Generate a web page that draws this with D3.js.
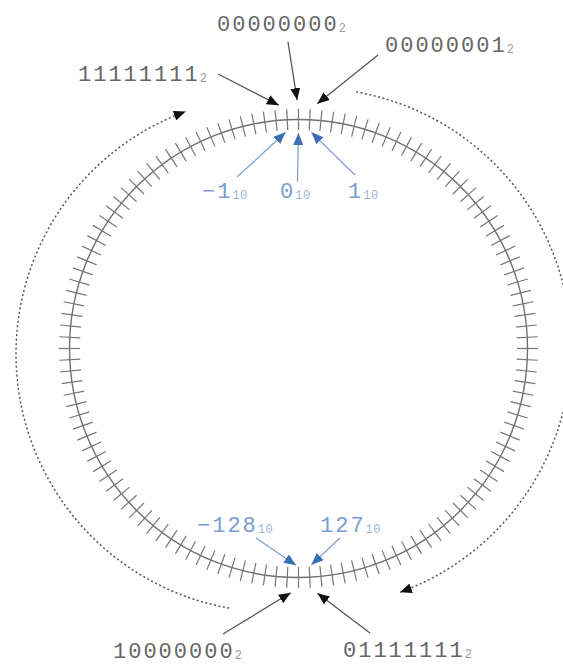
<!DOCTYPE html>
<html>
<head>
<meta charset="utf-8">
<script src="https://cdn.jsdelivr.net/npm/d3@7"></script>
<style>
  html, body { margin: 0; padding: 0; background: #fff; }
  svg { display: block; }
  text { font-family: "Liberation Mono", "DejaVu Sans Mono", monospace; }
</style>
</head>
<body>
<div id="chart"></div>
<script>
// ---- data ----
const tickCount = 128;
const tickIndex = d3.range(tickCount);
const binaryLabels = ["11111111", "00000000", "00000001", "10000000", "01111111"];
const binaryBase = "2";
const binaryTargets = [-1, 0, 1, 64, 63];
const decimalLabels = ["\u22121", "0", "1", "\u2212128", "127"];
const decimalBase = "10";
const decimalTargets = [-1, 0, 1, 64, 63];

// ---- layout ----
const W = 563, H = 666;
const cx = 298.5, cy = 348.5, R = 229, tickHalf = 10.5;
const binaryText = [[78, 81], [217, 31], [385, 52], [113, 658], [343, 657]];
const binaryStart = [[218, 74], [288, 42], [378, 55], [223, 634], [370, 633]];
const decimalText = [[202, 198], [280, 198], [348, 198], [197, 532], [320, 532]];
const decimalStart = [[237, 177], [297.5, 182], [355, 175], [256, 538], [340, 538]];
const dottedArcs = [
  { cx: 274, cy: 354, r: 258, a0: 190, a1: 340 },
  { cx: 311, cy: 348, r: 260, a0: 10, a1: 160 }
];

const angle = d3.scaleLinear().domain([0, tickCount]).range([0, 2 * Math.PI]);
const polar = (i, r) => [cx + r * Math.sin(angle(i)), cy - r * Math.cos(angle(i))];

const svg = d3.select("#chart").append("svg")
  .attr("width", W).attr("height", H).attr("viewBox", `0 0 ${W} ${H}`);

const defs = svg.append("defs");
function marker(id, color, len, wid) {
  defs.append("marker").attr("id", id)
    .attr("markerUnits", "userSpaceOnUse")
    .attr("viewBox", `0 0 ${len} ${wid}`)
    .attr("refX", len).attr("refY", wid / 2)
    .attr("markerWidth", len).attr("markerHeight", wid)
    .attr("orient", "auto")
    .append("path").attr("d", `M0,0 L${len},${wid / 2} L0,${wid} Z`).attr("fill", color);
}
marker("ahBlack", "#111", 12, 10);
marker("ahBlue", "#3a6db4", 12, 10);
marker("ahDot", "#111", 12, 10);

// dotted arcs
dottedArcs.forEach(a => {
  const p = d3.path();
  const s = (a.a0 - 90) * Math.PI / 180, e = (a.a1 - 90) * Math.PI / 180;
  p.moveTo(a.cx + a.r * Math.cos(s), a.cy + a.r * Math.sin(s));
  p.arc(a.cx, a.cy, a.r, s, e, false);
  svg.append("path").attr("d", p.toString())
    .attr("fill", "none").attr("stroke", "#555").attr("stroke-width", 1.5)
    .attr("stroke-dasharray", "2,2.5")
    .attr("marker-end", "url(#ahDot)");
});

// circle
svg.append("circle").attr("cx", cx).attr("cy", cy).attr("r", R)
  .attr("fill", "none").attr("stroke", "#707070").attr("stroke-width", 1.4);

// ticks
svg.append("g").selectAll("line").data(tickIndex).join("line")
  .attr("x1", d => polar(d, R - tickHalf)[0]).attr("y1", d => polar(d, R - tickHalf)[1])
  .attr("x2", d => polar(d, R + tickHalf)[0]).attr("y2", d => polar(d, R + tickHalf)[1])
  .attr("stroke", "#777").attr("stroke-width", 1.2);

function arrow(start, target, gap, color, mk) {
  const dx = target[0] - start[0], dy = target[1] - start[1];
  const L = Math.hypot(dx, dy);
  const tip = [target[0] - dx / L * gap, target[1] - dy / L * gap];
  svg.append("line")
    .attr("x1", start[0]).attr("y1", start[1]).attr("x2", tip[0]).attr("y2", tip[1])
    .attr("stroke", color).attr("stroke-width", 1.3)
    .attr("marker-end", `url(#${mk})`);
}

// binary arrows (outside)
binaryTargets.forEach((t, i) => arrow(binaryStart[i], polar(t, R + tickHalf), 9, "#555", "ahBlack"));
// decimal arrows (inside)
decimalTargets.forEach((t, i) => arrow(decimalStart[i], polar(t, R - tickHalf), 3, "#7fa2d3", "ahBlue"));

function label(txt, sub, pos, color, subColor) {
  const t = svg.append("text").attr("x", pos[0]).attr("y", pos[1])
    .attr("font-size", 22).attr("letter-spacing", "2px").attr("fill", color);
  t.append("tspan").text(txt);
  t.append("tspan").attr("font-size", 12).attr("letter-spacing", "0.5px")
    .attr("dy", 1).attr("fill", subColor).text(sub);
}
binaryLabels.forEach((b, i) => label(b, binaryBase, binaryText[i], "#666", "#999"));
decimalLabels.forEach((d, i) => label(d, decimalBase, decimalText[i], "#789ccf", "#9ab5dc"));
</script>
</body>
</html>
